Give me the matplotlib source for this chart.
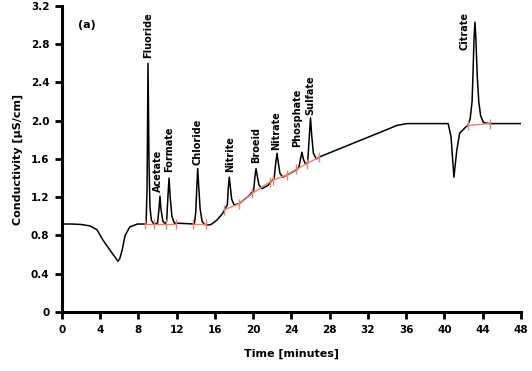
import matplotlib.pyplot as plt

# Chromatogram trace (time in minutes, conductivity in uS/cm)
trace_t = [0, 1, 2, 2.93, 3.66, 4.3, 5.0, 5.5, 5.86, 6.05, 6.3, 6.6, 7.1, 7.9, 8.8,
           8.9, 9.0, 9.1, 9.2, 9.35, 9.6,
           10.0, 10.15, 10.25, 10.35, 10.55, 10.8,
           10.95, 11.08, 11.2, 11.32, 11.5, 11.75,
           13.85, 14.0, 14.1, 14.2, 14.3, 14.45, 14.65, 14.9, 15.3,
           15.6, 16.2, 16.8, 17.3,
           17.4, 17.5, 17.6, 17.75, 18.0, 18.5,
           19.5, 20.05, 20.2, 20.3, 20.4, 20.6, 20.9, 21.5,
           22.2, 22.35, 22.5, 22.6, 22.8, 23.1, 23.5,
           24.6, 24.8, 24.95, 25.1, 25.25, 25.45,
           25.7, 25.85, 26.0, 26.12, 26.3, 26.6, 26.9,
           34.3, 35.0, 36.1, 40.4,
           40.7, 41.0, 41.3, 41.6, 42.3, 42.45,
           42.7, 42.9, 43.0, 43.1, 43.2, 43.3, 43.45, 43.6, 43.8, 44.1, 44.75, 48]
trace_y = [0.92, 0.92, 0.915, 0.90, 0.86, 0.75, 0.65, 0.58, 0.53, 0.56, 0.65, 0.80, 0.89, 0.92, 0.92,
           1.30, 2.60, 1.60, 1.10, 0.96, 0.92,
           0.93, 1.08, 1.21, 1.08, 0.95, 0.92,
           0.95, 1.20, 1.40, 1.20, 1.00, 0.93,
           0.92, 1.05, 1.30, 1.50, 1.32, 1.08, 0.95, 0.915, 0.91,
           0.915, 0.96, 1.03, 1.12,
           1.30, 1.41, 1.32, 1.18, 1.12, 1.13,
           1.21, 1.27, 1.43, 1.50, 1.44, 1.33, 1.29, 1.32,
           1.40, 1.55, 1.66, 1.58, 1.45, 1.41, 1.43,
           1.49, 1.52, 1.60, 1.67, 1.60, 1.55,
           1.56, 1.80, 2.03, 1.85, 1.66, 1.60, 1.62,
           1.92, 1.95, 1.97, 1.97,
           1.83, 1.41, 1.69, 1.87, 1.94, 1.95,
           2.02, 2.20, 2.50, 2.85, 3.03, 2.85, 2.45, 2.20, 2.05, 1.98, 1.97, 1.97]

# Integration baselines (red) with start/end markers
base_segments = [
    ([8.7, 9.6, 10.9, 11.9], [0.92, 0.92, 0.92, 0.92]),
    ([13.7, 15.05], [0.915, 0.915]),
    ([17.0, 18.5, 19.9, 21.75, 22.1, 23.5, 24.5, 25.6, 26.9],
     [1.07, 1.13, 1.24, 1.36, 1.38, 1.43, 1.49, 1.55, 1.62]),
    ([42.45, 44.75], [1.95, 1.97]),
]

# Peak labels and where they sit
peak_names = ["Fluoride", "Acetate", "Formate", "Chloride", "Nitrite",
              "Broeid", "Nitrate", "Phosphate", "Sulfate", "Citrate"]
label_x = [9.0, 10.05, 11.2, 14.2, 17.55, 20.3, 22.4, 24.65, 26.0, 42.15]
label_y = [2.66, 1.25, 1.46, 1.54, 1.46, 1.56, 1.69, 1.72, 2.06, 2.74]

xticks = list(range(0, 49, 4))
yticks = [0, 0.4, 0.8, 1.2, 1.6, 2.0, 2.4, 2.8, 3.2]
ytick_labels = ["0", "0.4", "0.8", "1.2", "1.6", "2.0", "2.4", "2.8", "3.2"]

fig = plt.figure(figsize=(5.32, 3.71), dpi=100)
ax = fig.add_axes([0.1165, 0.159, 0.8625, 0.825])

ax.plot(trace_t, trace_y, color="black", lw=1.1, zorder=2)
for bt, by in base_segments:
    ax.plot(bt, by, color="#e8836d", lw=1.0, marker="|", markersize=7,
            markeredgewidth=1.0, zorder=3)

for name, lx, ly in zip(peak_names, label_x, label_y):
    ax.text(lx, ly, name, rotation=90, ha="center", va="bottom",
            fontsize=7, fontweight="bold")

ax.text(1.7, 2.97, "(a)", fontsize=8, fontweight="bold")

ax.set_xlim(0, 48)
ax.set_ylim(0, 3.2)
ax.set_xticks(xticks)
ax.set_yticks(yticks)
ax.set_yticklabels(ytick_labels)
ax.spines["top"].set_visible(False)
ax.spines["right"].set_visible(False)
ax.spines["left"].set_linewidth(2.2)
ax.spines["bottom"].set_linewidth(2.2)
ax.tick_params(direction="out", length=5, width=2, labelsize=7.5, pad=4)
for lab in ax.get_xticklabels() + ax.get_yticklabels():
    lab.set_fontweight("bold")

ax.set_xlabel("Time [minutes]", fontsize=8, fontweight="bold", labelpad=10)
ax.set_ylabel("Conductivity [\u00b5S/cm]", fontsize=8, fontweight="bold", labelpad=6)

fig.savefig("out.png", dpi=100)
